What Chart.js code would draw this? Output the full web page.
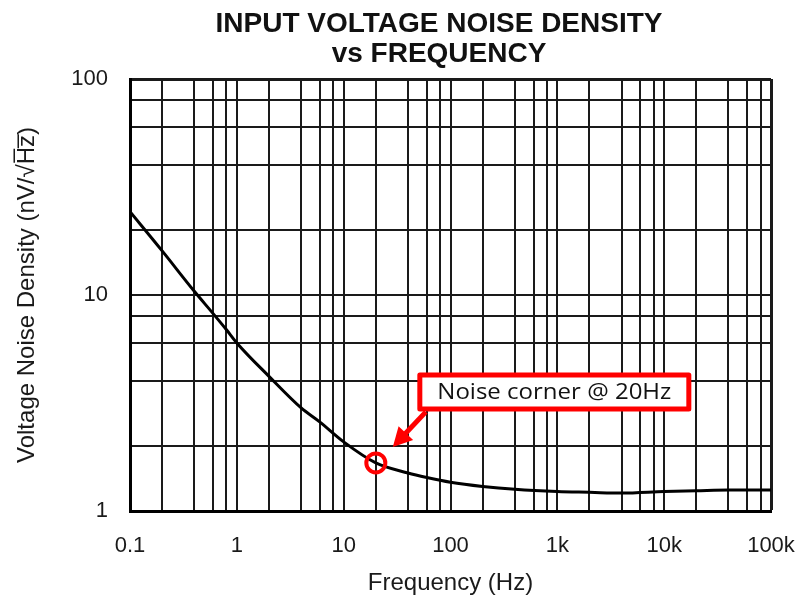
<!DOCTYPE html>
<html>
<head>
<meta charset="utf-8">
<script src="https://cdn.jsdelivr.net/npm/chart.js@4.4.1/dist/chart.umd.min.js"></script>
<style>
html,body{margin:0;padding:0;background:#fff;}
canvas{display:block;}
</style>
</head>
<body>
<canvas id="c" width="801" height="599"></canvas>
<script>
// ---- data ----
const freqHz = [0.1, 0.2, 0.4, 0.6, 0.8, 1, 2, 4, 6, 10, 20, 40, 60, 100, 200, 400, 1000, 2000, 4000, 10000, 20000, 40000, 100000];
const noiseDensity = [24.3, 16.0, 10.4, 8.2, 6.9, 6.0, 4.2, 3.0, 2.58, 2.09, 1.67, 1.5, 1.43, 1.36, 1.30, 1.26, 1.23, 1.22, 1.21, 1.23, 1.24, 1.25, 1.25];
const cornerFreq = [20];
const cornerNoise = [1.67];
const cornerLabel = 'Noise corner @ 20Hz';

const xGridValues = [0.1, 0.2, 0.4, 0.6, 0.8, 1, 2, 4, 6, 8, 10, 20, 40, 60, 80, 100, 200, 400, 600, 800, 1000, 2000, 4000, 6000, 8000, 10000, 20000, 40000, 60000, 80000, 100000];
const xLabelValues = [0.1, 1, 10, 100, 1000, 10000, 100000];
const xLabelTexts = ['0.1', '1', '10', '100', '1k', '10k', '100k'];
const yGridValues = [1, 2, 4, 6, 8, 10, 20, 40, 60, 80, 100];
const yLabelValues = [1, 10, 100];
const yLabelTexts = ['1', '10', '100'];

const titleLines = ['INPUT VOLTAGE NOISE DENSITY', 'vs FREQUENCY'];
const xTitle = 'Frequency (Hz)';
const yTitle = 'Voltage Noise Density (nV/\u221AH\u0305z\u0305)';

const FONT = '"Liberation Sans", Arial, Helvetica, sans-serif';

function labelFor(values, texts, v) {
  for (let i = 0; i < values.length; i++) {
    if (Math.abs(values[i] - v) / values[i] < 1e-6) return texts[i];
  }
  return '';
}

// shift the title block so it is centred where the reference centres it
const titleShiftPlugin = {
  id: 'titleShift',
  afterLayout(chart) {
    if (chart.titleBlock) chart.titleBlock.left = 107;
  }
};

const annotationPlugin = {
  id: 'cornerNote',
  afterDatasetsDraw(chart) {
    const meta = chart.getDatasetMeta(1);
    const pt = meta.data[0];
    if (!pt) return;
    const px = pt.x, py = pt.y;
    const ctx = chart.ctx;
    ctx.save();
    // box
    const bx = px + 44, by = py - 88, bw = 269, bh = 34;
    ctx.fillStyle = '#ffffff';
    ctx.fillRect(bx, by, bw, bh);
    ctx.lineWidth = 5;
    ctx.strokeStyle = '#ff0000';
    ctx.lineJoin = 'round';
    ctx.strokeRect(bx, by, bw, bh);
    // text (wide humanist face, like the reference callout)
    ctx.fillStyle = '#111111';
    ctx.font = '21px "Open Sans", Lato, sans-serif';
    ctx.textAlign = 'center';
    ctx.textBaseline = 'middle';
    const w = ctx.measureText(cornerLabel).width;
    const sx = 234 / w;
    ctx.save();
    ctx.translate(bx + bw / 2, by + bh / 2 + 1);
    ctx.scale(sx, 1);
    ctx.fillText(cornerLabel, 0, 0);
    ctx.restore();
    // arrow
    const tx = px + 50, ty = py - 51;  // tail (box bottom)
    const hx = px + 17, hy = py - 16;  // tip
    const dx = hx - tx, dy = hy - ty;
    const len = Math.hypot(dx, dy);
    const ux = dx / len, uy = dy / len;
    const headLen = 19, headHalf = 10;
    const baseX = hx - ux * headLen, baseY = hy - uy * headLen;
    ctx.strokeStyle = '#ff0000';
    ctx.lineWidth = 5;
    ctx.lineCap = 'butt';
    ctx.beginPath();
    ctx.moveTo(tx, ty);
    ctx.lineTo(baseX + ux * 2, baseY + uy * 2);
    ctx.stroke();
    ctx.fillStyle = '#ff0000';
    ctx.beginPath();
    ctx.moveTo(hx, hy);
    ctx.lineTo(baseX - uy * headHalf, baseY + ux * headHalf);
    ctx.lineTo(baseX + uy * headHalf, baseY - ux * headHalf);
    ctx.closePath();
    ctx.fill();
    ctx.restore();
  }
};

new Chart(document.getElementById('c'), {
  type: 'scatter',
  data: {
    datasets: [
      {
        data: freqHz.map((f, i) => ({x: f, y: noiseDensity[i]})),
        showLine: true,
        borderColor: '#000000',
        borderWidth: 3,
        pointRadius: 0,
        cubicInterpolationMode: 'monotone',
        order: 2
      },
      {
        data: cornerFreq.map((f, i) => ({x: f, y: cornerNoise[i]})),
        showLine: false,
        pointStyle: 'circle',
        pointRadius: 9.5,
        pointBorderWidth: 4,
        pointBorderColor: '#ff0000',
        pointBackgroundColor: 'rgba(0,0,0,0)',
        order: 1
      }
    ]
  },
  options: {
    responsive: false,
    animation: false,
    events: [],
    layout: {padding: {left: 0, right: 30, top: 0, bottom: 0}},
    plugins: {
      legend: {display: false},
      tooltip: {enabled: false},
      title: {
        display: true,
        text: titleLines,
        color: '#111111',
        font: {family: FONT, size: 28, weight: 'bold', lineHeight: '30px'},
        padding: {top: 9, bottom: 10}
      }
    },
    scales: {
      x: {
        type: 'logarithmic',
        min: 0.1,
        max: 100000,
        afterBuildTicks(scale) { scale.ticks = xGridValues.map(v => ({value: v})); },
        afterFit(scale) { scale.height = 88; scale.paddingLeft = 0; scale.paddingRight = 0; },
        ticks: {
          autoSkip: false,
          maxRotation: 0,
          minRotation: 0,
          padding: 22,
          color: '#1a1a1a',
          font: {family: FONT, size: 22},
          callback: (v) => labelFor(xLabelValues, xLabelTexts, v)
        },
        grid: {
          color: '#1a1a1a',
          lineWidth: (c) => (c.tick && c.tick.value === 100000 ? 3 : 2),
          drawTicks: false
        },
        border: {display: true, color: '#000000', width: 3},
        title: {
          display: true,
          text: xTitle,
          color: '#1a1a1a',
          font: {family: FONT, size: 24},
          padding: {top: 0, bottom: 1}
        }
      },
      y: {
        type: 'logarithmic',
        min: 1,
        max: 100,
        afterBuildTicks(scale) { scale.ticks = yGridValues.map(v => ({value: v})); },
        afterFit(scale) { scale.width = 130; scale.paddingTop = 0; scale.paddingBottom = 0; },
        ticks: {
          autoSkip: false,
          padding: 22,
          color: '#1a1a1a',
          font: {family: FONT, size: 22},
          callback: (v) => labelFor(yLabelValues, yLabelTexts, v)
        },
        grid: {
          color: '#1a1a1a',
          lineWidth: (c) => (c.tick && c.tick.value === 100 ? 3 : 2),
          drawTicks: false
        },
        border: {display: true, color: '#000000', width: 3},
        title: {
          display: true,
          text: yTitle,
          color: '#1a1a1a',
          font: {family: FONT, size: 24},
          padding: {top: 13, bottom: 0}
        }
      }
    }
  },
  plugins: [titleShiftPlugin, annotationPlugin]
});
</script>
</body>
</html>
